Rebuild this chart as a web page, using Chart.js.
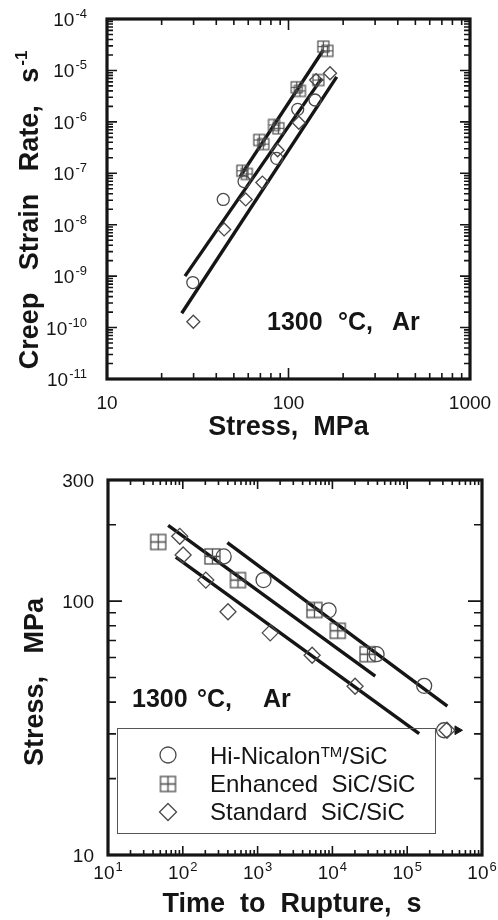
<!DOCTYPE html>
<html><head><meta charset="utf-8">
<script src="https://cdn.jsdelivr.net/npm/chart.js@4.4.1/dist/chart.umd.min.js"></script>
<style>
html,body{margin:0;padding:0;background:#fff;}
#wrap{position:relative;width:498px;height:920px;background:#fff;}
#c1{position:absolute;left:0;top:0;}
#c2{position:absolute;left:0;top:440px;}
</style></head><body>
<div id="wrap"><canvas id="c1" width="498" height="440"></canvas><canvas id="c2" width="498" height="480"></canvas></div>
<script>
// ---------- Top chart: creep strain rate vs stress ----------
const creepHiNicStress = [29.7, 43.7, 56.9, 86.1, 112.4, 140];
const creepHiNicRate   = [7.5e-10, 3.1e-8, 6.9e-8, 1.95e-7, 1.75e-6, 2.66e-6];
const creepEnhStress   = [55.7, 58.9, 69.0, 72.6, 83.2, 87.9, 111, 115.6, 146, 155.6, 163.7];
const creepEnhRate     = [1.12e-7, 9.7e-8, 4.44e-7, 3.7e-7, 8.7e-7, 7.5e-7, 4.7e-6, 4.0e-6, 6.5e-6, 2.9e-5, 2.4e-5];
const creepStdStress   = [29.9, 44.2, 58.1, 71.8, 87.1, 114, 142, 169.4];
const creepStdRate     = [1.3e-10, 8.1e-9, 3.1e-8, 6.6e-8, 2.8e-7, 9.6e-7, 6.5e-6, 8.8e-6];
// fitted lines (end points)
const fitCreepHiNicStress = [26.9, 152.4];
const fitCreepHiNicRate   = [1.0e-9, 7.0e-6];
const fitCreepEnhStress   = [54.1, 155.6];
const fitCreepEnhRate     = [8.6e-8, 2.5e-5];
const fitCreepStdStress   = [25.8, 184.3];
const fitCreepStdRate     = [1.9e-10, 7.5e-6];
const creepXTickLabels = ['10', '100', '1000'];
const creepXTickValues = [10, 100, 1000];
const creepYTickExp    = [-4, -5, -6, -7, -8, -9, -10, -11];

// ---------- Bottom chart: stress vs time to rupture ----------
const rupHiNicTime   = [352, 1200, 8900, 39000, 168600, 311000];
const rupHiNicStress = [150, 121, 92, 61.8, 46.4, 31.0];
const rupEnhTime     = [46.9, 249, 546, 5750, 11800, 29500];
const rupEnhStress   = [171, 150, 121, 92.3, 76.4, 61.8];
const rupStdTime     = [91, 101, 203, 402, 1475, 5360, 20100, 340000];
const rupStdStress   = [180, 152, 121, 90.8, 75, 61.2, 46.2, 31.0];
const rupRunoutTime   = [470000];
const rupRunoutStress = [31.0];
const fitRupEnhTime     = [63.7, 37400];
const fitRupEnhStress   = [199, 50.7];
const fitRupHiNicTime   = [394, 344000];
const fitRupHiNicStress = [170, 38.6];
const fitRupStdTime     = [80.7, 144500];
const fitRupStdStress   = [149, 30.1];
const rupXTickExp    = [1, 2, 3, 4, 5, 6];
const rupYTickLabels = ['10', '100', '300'];
const rupYTickValues = [10, 100, 300];

const seriesNames = ['Hi-Nicalon', 'Enhanced  SiC/SiC', 'Standard  SiC/SiC'];

// ---------- helpers ----------
const FONT = "'Liberation Sans', Arial, Helvetica, sans-serif";
const INK = '#151515';
const MARK = '#4a4a4a';
function pts(xs, ys){ return xs.map((x,i)=>({x:x, y:ys[i]})); }
function boxPlus(side, lw, color){
  const pad = Math.ceil(lw)+1;
  const c = document.createElement('canvas');
  c.width = side + pad*2; c.height = side + pad*2;
  const g = c.getContext('2d');
  g.strokeStyle = color; g.lineWidth = lw;
  g.strokeRect(pad, pad, side, side);
  g.beginPath();
  g.moveTo(pad + side/2, pad); g.lineTo(pad + side/2, pad + side);
  g.moveTo(pad, pad + side/2); g.lineTo(pad + side, pad + side/2);
  g.stroke();
  return c;
}
function minorLog(lo, hi){
  const out = [];
  for (let e = Math.floor(Math.log10(lo)); e <= Math.ceil(Math.log10(hi)); e++){
    for (let m = 1; m <= 9; m++){
      const v = m * Math.pow(10, e);
      if (v > lo*1.0001 && v < hi*0.9999) out.push(v);
    }
  }
  return out;
}
function drawPow(ctx, base, exp, x, y, align, bf, ef, rise){
  ctx.font = bf; const wb = ctx.measureText(base).width;
  ctx.font = ef; const we = ctx.measureText(exp).width;
  const tot = wb + we + 1;
  let x0 = x;
  if (align === 'center') x0 = x - tot/2;
  else if (align === 'right') x0 = x - tot;
  ctx.textAlign = 'left'; ctx.textBaseline = 'alphabetic';
  ctx.font = bf; ctx.fillText(base, x0, y);
  ctx.font = ef; ctx.fillText(exp, x0 + wb + 1, y - rise);
}
function rotTitle(ctx, cx, cy, main, sup, mf, sf){
  ctx.save();
  ctx.translate(cx, cy);
  ctx.rotate(-Math.PI/2);
  ctx.textAlign = 'left'; ctx.textBaseline = 'alphabetic';
  ctx.font = mf; const wm = ctx.measureText(main).width;
  let ws = 0;
  if (sup){ ctx.font = sf; ws = ctx.measureText(sup).width + 2; }
  const x0 = -(wm + ws)/2;
  ctx.font = mf; ctx.fillText(main, x0, 0);
  if (sup){ ctx.font = sf; ctx.fillText(sup, x0 + wm + 2, -11); }
  ctx.restore();
}
function ticksPlugin(cfg){
  return {
    id: cfg.id,
    afterDraw(chart){
      const ctx = chart.ctx, a = chart.chartArea;
      const xs = chart.scales.x, ys = chart.scales.y;
      ctx.save();
      ctx.strokeStyle = INK; ctx.fillStyle = INK;
      ctx.lineWidth = 1.6; ctx.lineCap = 'butt';
      ctx.beginPath();
      cfg.yTicks.forEach(t => {
        const p = ys.getPixelForValue(t.v);
        ctx.moveTo(a.left, p); ctx.lineTo(a.left + t.len, p);
        ctx.moveTo(a.right, p); ctx.lineTo(a.right - t.len, p);
      });
      cfg.xTicks.forEach(t => {
        const p = xs.getPixelForValue(t.v);
        ctx.moveTo(p, a.bottom); ctx.lineTo(p, a.bottom - t.len);
        ctx.moveTo(p, a.top); ctx.lineTo(p, a.top + t.len);
      });
      ctx.stroke();
      ctx.lineWidth = 3.2;
      ctx.strokeRect(a.left, a.top, a.right - a.left, a.bottom - a.top);
      cfg.draw(ctx, a, xs, ys);
      ctx.restore();
    }
  };
}
function commonOptions(pad, xr, yr){
  return {
    responsive: false, animation: false, devicePixelRatio: 1,
    layout: {padding: pad},
    plugins: {legend: {display: false}, tooltip: {enabled: false}},
    scales: {
      x: {type: 'logarithmic', min: xr[0], max: xr[1], display: false},
      y: {type: 'logarithmic', min: yr[0], max: yr[1], display: false}
    }
  };
}
function lineDS(xs, ys){
  return {data: pts(xs, ys), showLine: true, pointRadius: 0, borderColor: INK, borderWidth: 3.4, fill: false};
}
function markDS(label, xs, ys, style, r){
  return {label: label, data: pts(xs, ys), showLine: false, pointStyle: style, pointRadius: r,
          borderColor: MARK, borderWidth: 1.3, backgroundColor: 'rgba(0,0,0,0)'};
}

// ---------- top chart ----------
const box12 = boxPlus(11, 1.2, MARK);
const topYTicks = [];
creepYTickExp.forEach(e => topYTicks.push({v: Math.pow(10, e), len: 10}));
minorLog(1e-11, 1e-4).forEach(v => topYTicks.push({v: v, len: 6}));
const topXTicks = [];
creepXTickValues.forEach(v => topXTicks.push({v: v, len: 11}));
minorLog(10, 1000).forEach(v => topXTicks.push({v: v, len: 6}));

new Chart(document.getElementById('c1'), {
  type: 'scatter',
  data: {datasets: [
    markDS('Hi-Nicalon', creepHiNicStress, creepHiNicRate, 'circle', 6),
    markDS('Enhanced', creepEnhStress, creepEnhRate, box12, 6),
    markDS('Standard', creepStdStress, creepStdRate, 'rectRot', 6.5),
    lineDS(fitCreepHiNicStress, fitCreepHiNicRate),
    lineDS(fitCreepEnhStress, fitCreepEnhRate),
    lineDS(fitCreepStdStress, fitCreepStdRate)
  ]},
  options: commonOptions({left: 107, right: 28, top: 19, bottom: 61}, [10, 1000], [1e-11, 1e-4]),
  plugins: [ticksPlugin({
    id: 'topframe', yTicks: topYTicks, xTicks: topXTicks,
    draw(ctx, a, xs, ys){
      const bf = '19px ' + FONT, ef = '13px ' + FONT;
      creepYTickExp.forEach(e => {
        const p = ys.getPixelForValue(Math.pow(10, e));
        drawPow(ctx, '10', String(e), a.left - 20, p + 7, 'right', bf, ef, 8);
      });
      ctx.font = bf; ctx.textAlign = 'center'; ctx.textBaseline = 'alphabetic';
      creepXTickValues.forEach((v, i) => {
        ctx.fillText(creepXTickLabels[i], xs.getPixelForValue(v), a.bottom + 30);
      });
      // x title
      ctx.font = 'bold 27px ' + FONT; ctx.textAlign = 'center';
      ctx.fillText('Stress,  MPa', (a.left + a.right)/2, a.bottom + 56);
      // y title (rotated)
      rotTitle(ctx, 38, 210, 'Creep   Strain   Rate,   s', '-1', 'bold 27px ' + FONT, 'bold 17px ' + FONT);
      // annotation
      ctx.font = 'bold 25px ' + FONT; ctx.textAlign = 'left';
      ctx.fillText('1300', 267, 330);
      ctx.fillText('°C,', 338, 330);
      ctx.fillText('Ar', 392, 330);
    }
  })]
});

// ---------- bottom chart ----------
const box15 = boxPlus(15, 1.3, MARK);
const botYTicks = [{v: 100, len: 14}];
minorLog(10, 300).filter(v => v !== 100).forEach(v => botYTicks.push({v: v, len: 8}));
const botXTicks = [];
rupXTickExp.forEach(e => botXTicks.push({v: Math.pow(10, e), len: 9}));
minorLog(10, 1e6).filter(v => !rupXTickExp.some(e => Math.abs(v - Math.pow(10, e)) < 1e-6*v)).forEach(v => botXTicks.push({v: v, len: 5}));

new Chart(document.getElementById('c2'), {
  type: 'scatter',
  data: {datasets: [
    markDS('Hi-Nicalon', rupHiNicTime, rupHiNicStress, 'circle', 7.5),
    markDS('Enhanced', rupEnhTime, rupEnhStress, box15, 7.5),
    markDS('Standard', rupStdTime, rupStdStress, 'rectRot', 8),
    {label: 'runout', data: pts(rupRunoutTime, rupRunoutStress), showLine: false, pointStyle: 'triangle',
     rotation: 90, pointRadius: 5, borderColor: INK, backgroundColor: INK, borderWidth: 1},
    lineDS(fitRupEnhTime, fitRupEnhStress),
    lineDS(fitRupHiNicTime, fitRupHiNicStress),
    lineDS(fitRupStdTime, fitRupStdStress)
  ]},
  options: commonOptions({left: 108, right: 16, top: 40, bottom: 65}, [10, 1e6], [10, 300]),
  plugins: [ticksPlugin({
    id: 'botframe', yTicks: botYTicks, xTicks: botXTicks,
    draw(ctx, a, xs, ys){
      const bf = '19px ' + FONT, ef = '13px ' + FONT;
      ctx.font = bf; ctx.textAlign = 'right'; ctx.textBaseline = 'alphabetic';
      rupYTickValues.forEach((v, i) => {
        ctx.fillText(rupYTickLabels[i], a.left - 14, ys.getPixelForValue(v) + 7);
      });
      rupXTickExp.forEach(e => {
        drawPow(ctx, '10', String(e), xs.getPixelForValue(Math.pow(10, e)), a.bottom + 24, 'center', bf, ef, 8);
      });
      ctx.font = 'bold 27px ' + FONT; ctx.textAlign = 'center';
      ctx.fillText('Time  to  Rupture,  s', 292, a.bottom + 57);
      rotTitle(ctx, 43, 682 - 440, 'Stress,   MPa', null, 'bold 27px ' + FONT, null);
      ctx.font = 'bold 25px ' + FONT; ctx.textAlign = 'left';
      ctx.fillText('1300', 132, 707 - 440);
      ctx.fillText('°C,', 197, 707 - 440);
      ctx.fillText('Ar', 263, 707 - 440);
      // legend
      const top = 728 - 440;
      ctx.lineWidth = 1; ctx.strokeStyle = '#555';
      ctx.strokeRect(117.5, top + 0.5, 318, 105);
      const mx = 168;
      const rows = [top + 27, top + 56, top + 84];
      ctx.strokeStyle = MARK; ctx.lineWidth = 1.3;
      ctx.beginPath(); ctx.arc(mx, rows[0], 8, 0, Math.PI*2); ctx.stroke();
      ctx.drawImage(box15, mx - box15.width/2, rows[1] - box15.height/2);
      ctx.beginPath();
      ctx.moveTo(mx, rows[2] - 8.5); ctx.lineTo(mx + 8.5, rows[2]); ctx.lineTo(mx, rows[2] + 8.5); ctx.lineTo(mx - 8.5, rows[2]); ctx.closePath();
      ctx.stroke();
      ctx.fillStyle = INK; ctx.textAlign = 'left';
      const lf = '24px ' + FONT;
      ctx.font = lf;
      const t1 = seriesNames[0];
      ctx.fillText(t1, 210, rows[0] + 9);
      const w1 = ctx.measureText(t1).width;
      ctx.font = '15px ' + FONT; ctx.fillText('TM', 210 + w1, rows[0] + 2);
      const w2 = ctx.measureText('TM').width;
      ctx.font = lf; ctx.fillText('/SiC', 210 + w1 + w2, rows[0] + 9);
      ctx.fillText(seriesNames[1], 210, rows[1] + 8);
      ctx.fillText(seriesNames[2], 210, rows[2] + 8);
    }
  })]
});
</script>
</body></html>
